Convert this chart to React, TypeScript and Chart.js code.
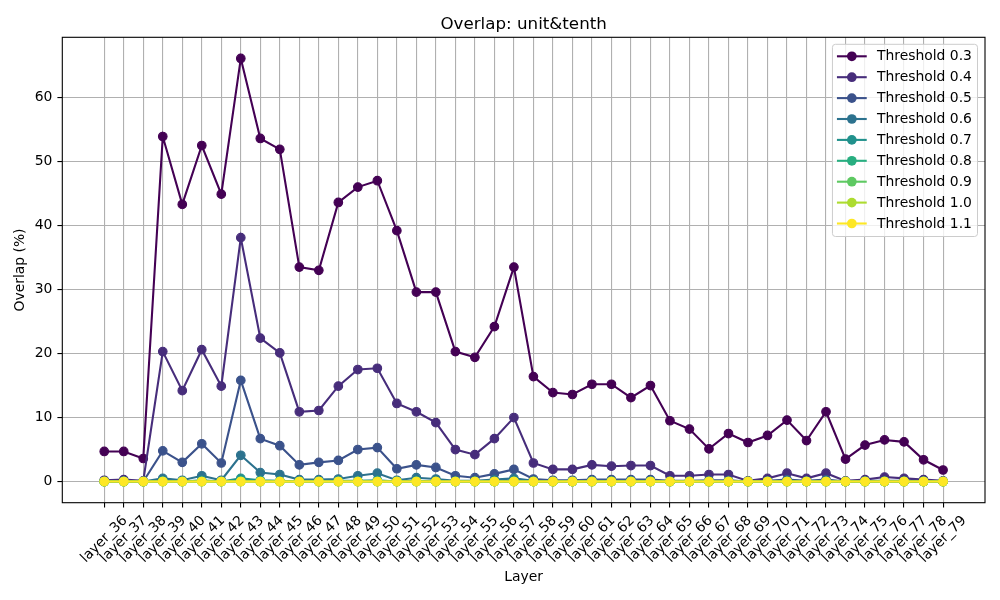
import React, { useEffect, useRef } from "react";
import { Chart, registerables } from "chart.js";

Chart.register(...registerables);

const layers = [
  "layer_36", "layer_37", "layer_38", "layer_39", "layer_40", "layer_41", "layer_42", "layer_43", "layer_44", "layer_45",
  "layer_46", "layer_47", "layer_48", "layer_49", "layer_50", "layer_51", "layer_52", "layer_53", "layer_54", "layer_55",
  "layer_56", "layer_57", "layer_58", "layer_59", "layer_60", "layer_61", "layer_62", "layer_63", "layer_64", "layer_65",
  "layer_66", "layer_67", "layer_68", "layer_69", "layer_70", "layer_71", "layer_72", "layer_73", "layer_74", "layer_75",
  "layer_76", "layer_77", "layer_78", "layer_79",
];

const thresholdLabels = [
  "Threshold 0.3", "Threshold 0.4", "Threshold 0.5", "Threshold 0.6", "Threshold 0.7",
  "Threshold 0.8", "Threshold 0.9", "Threshold 1.0", "Threshold 1.1",
];

const seriesColors = [
  "#440154", "#472d7b", "#3b528b", "#2c728e", "#21918c", "#28ae80", "#5ec962", "#addc30", "#fde725",
];

const t03 = [
  4.7, 4.7, 3.6, 53.9, 43.3, 52.5, 44.9, 66.1, 53.6, 51.9,
  33.5, 33.0, 43.6, 46.0, 47.0, 39.2, 29.6, 29.6, 20.3, 19.4,
  24.2, 33.5, 16.4, 13.9, 13.6, 15.2, 15.2, 13.1, 15.0, 9.5,
  8.2, 5.1, 7.5, 6.1, 7.2, 9.6, 6.4, 10.9, 3.5, 5.7,
  6.5, 6.2, 3.4, 1.8,
];
const t04 = [
  0.2, 0.3, 0.1, 20.3, 14.2, 20.6, 14.9, 38.1, 22.4, 20.1,
  10.9, 11.1, 14.9, 17.5, 17.7, 12.2, 10.9, 9.2, 5.0, 4.2,
  6.7, 10.0, 2.9, 1.9, 1.9, 2.6, 2.4, 2.5, 2.5, 0.9,
  0.9, 1.1, 1.1, 0.1, 0.5, 1.3, 0.5, 1.3, 0.1, 0.3,
  0.7, 0.5, 0.3, 0.1,
];
const t05 = [
  0.0, 0.1, 0.0, 4.8, 3.0, 5.9, 2.9, 15.8, 6.7, 5.6,
  2.6, 3.0, 3.3, 5.0, 5.3, 2.0, 2.6, 2.2, 0.9, 0.6,
  1.2, 1.9, 0.4, 0.2, 0.2, 0.3, 0.3, 0.3, 0.3, 0.1,
  0.1, 0.2, 0.2, 0.0, 0.1, 0.3, 0.1, 0.3, 0.0, 0.1,
  0.1, 0.1, 0.1, 0.0,
];
const t06 = [
  0.0, 0.0, 0.0, 0.5, 0.2, 0.9, 0.2, 4.1, 1.4, 1.1,
  0.3, 0.3, 0.4, 0.9, 1.3, 0.2, 0.6, 0.4, 0.1, 0.1,
  0.3, 0.5, 0.1, 0.0, 0.0, 0.1, 0.1, 0.1, 0.1, 0.0,
  0.0, 0.0, 0.0, 0.0, 0.0, 0.1, 0.0, 0.1, 0.0, 0.0,
  0.0, 0.0, 0.0, 0.0,
];
const t07 = [
  0.0, 0.0, 0.0, 0.1, 0.0, 0.2, 0.0, 0.5, 0.2, 0.1,
  0.0, 0.0, 0.1, 0.1, 0.2, 0.0, 0.1, 0.0, 0.0, 0.0,
  0.0, 0.1, 0.0, 0.0, 0.0, 0.0, 0.0, 0.0, 0.0, 0.0,
  0.0, 0.0, 0.0, 0.0, 0.0, 0.0, 0.0, 0.0, 0.0, 0.0,
  0.0, 0.0, 0.0, 0.0,
];
const t08 = [
  0, 0, 0, 0, 0, 0, 0, 0.1, 0, 0,
  0, 0, 0, 0, 0, 0, 0, 0, 0, 0,
  0, 0, 0, 0, 0, 0, 0, 0, 0, 0,
  0, 0, 0, 0, 0, 0, 0, 0, 0, 0,
  0, 0, 0, 0,
];
const t09 = [
  0, 0, 0, 0, 0, 0, 0, 0, 0, 0,
  0, 0, 0, 0, 0, 0, 0, 0, 0, 0,
  0, 0, 0, 0, 0, 0, 0, 0, 0, 0,
  0, 0, 0, 0, 0, 0, 0, 0, 0, 0,
  0, 0, 0, 0,
];
const t10 = [
  0, 0, 0, 0, 0, 0, 0, 0, 0, 0,
  0, 0, 0, 0, 0, 0, 0, 0, 0, 0,
  0, 0, 0, 0, 0, 0, 0, 0, 0, 0,
  0, 0, 0, 0, 0, 0, 0, 0, 0, 0,
  0, 0, 0, 0,
];
const t11 = [
  0, 0, 0, 0, 0, 0, 0, 0, 0, 0,
  0, 0, 0, 0, 0, 0, 0, 0, 0, 0,
  0, 0, 0, 0, 0, 0, 0, 0, 0, 0,
  0, 0, 0, 0, 0, 0, 0, 0, 0, 0,
  0, 0, 0, 0,
];

const yTicks = [0, 10, 20, 30, 40, 50, 60];

const chartTitle = "Overlap: unit&tenth";
const xTitle = "Layer";
const yTitle = "Overlap (%)";

const FONT = '"DejaVu Sans", sans-serif';
const FS = 13.9;

export default function App() {
  const ref = useRef<HTMLCanvasElement | null>(null);

  useEffect(() => {
    document.body.style.margin = "0";
    const canvas = ref.current;
    if (!canvas) return;
    const series = [t03, t04, t05, t06, t07, t08, t09, t10, t11];

    const overlay = {
      id: "overlay",
      afterDraw(chart: any) {
        const { ctx, chartArea: a } = chart;
        ctx.save();
        // spines
        ctx.strokeStyle = "#000";
        ctx.lineWidth = 1.1;
        ctx.strokeRect(a.left, a.top, a.right - a.left, a.bottom - a.top);

        // title
        ctx.fillStyle = "#000";
        ctx.font = `16.7px ${FONT}`;
        ctx.textAlign = "center";
        ctx.textBaseline = "alphabetic";
        const cx = (a.left + a.right) / 2;
        ctx.fillText(chartTitle, cx, a.top - 8.5);

        // x tick labels rotated 45 deg, centered on tick
        const xs = chart.scales.x;
        ctx.font = `${FS}px ${FONT}`;
        layers.forEach((lab, i) => {
          const px = xs.getPixelForValue(i);
          const w = ctx.measureText(lab).width;
          const d = (w + 16) * Math.SQRT1_2;
          ctx.save();
          ctx.translate(px, a.bottom + 10 + d / 2);
          ctx.rotate(-Math.PI / 4);
          ctx.textAlign = "center";
          ctx.textBaseline = "middle";
          ctx.fillText(lab, 0, 0);
          ctx.restore();
        });

        // x axis title
        ctx.textAlign = "center";
        ctx.textBaseline = "middle";
        ctx.fillText(xTitle, cx, 577);

        // legend
        const items = chart.data.datasets;
        let maxW = 0;
        items.forEach((ds: any) => {
          maxW = Math.max(maxW, ctx.measureText(ds.label).width);
        });
        const pad = 5.6;
        const handle = 27.8;
        const textPad = 11.1;
        const boxW = pad + handle + textPad + maxW + pad;
        const rowH = 20.9;
        const boxH = 12 + rowH * (items.length - 1) + 13;
        const bx = a.right - 7.5 - boxW;
        const by = a.top + 7;
        ctx.beginPath();
        if ((ctx as any).roundRect) {
          (ctx as any).roundRect(bx, by, boxW, boxH, 3);
        } else {
          ctx.rect(bx, by, boxW, boxH);
        }
        ctx.fillStyle = "rgba(255,255,255,0.8)";
        ctx.fill();
        ctx.strokeStyle = "#cccccc";
        ctx.lineWidth = 1;
        ctx.stroke();
        items.forEach((ds: any, i: number) => {
          const y = by + 12 + i * rowH;
          const hx = bx + 4.5;
          ctx.strokeStyle = ds.borderColor;
          ctx.lineWidth = 2.1;
          ctx.beginPath();
          ctx.moveTo(hx, y);
          ctx.lineTo(hx + handle + 2, y);
          ctx.stroke();
          ctx.fillStyle = ds.borderColor;
          ctx.beginPath();
          ctx.arc(hx + (handle + 2) / 2, y, 4.85, 0, Math.PI * 2);
          ctx.fill();
          ctx.fillStyle = "#000";
          ctx.textAlign = "left";
          ctx.textBaseline = "middle";
          ctx.fillText(ds.label, bx + pad + handle + textPad, y + 0.5);
        });
        ctx.restore();
      },
    };

    const gridOpts = {
      color: "#b0b0b0",
      lineWidth: 1.1,
      tickColor: "#000",
      tickLength: 4.9,
      tickWidth: 1.1,
    };

    const chart = new Chart(canvas, {
      type: "line",
      data: {
        datasets: series.map((s, i) => ({
          label: thresholdLabels[i],
          data: s.map((v, j) => ({ x: j, y: v })),
          borderColor: seriesColors[i],
          backgroundColor: seriesColors[i],
          pointBackgroundColor: seriesColors[i],
          pointBorderColor: seriesColors[i],
          pointBorderWidth: 1.1,
          pointRadius: 4.3,
          borderWidth: 2.1,
          tension: 0,
          fill: false,
          order: series.length - i,
        })),
      },
      options: {
        responsive: false,
        animation: false,
        layout: { padding: { left: 0, right: 15, top: 37.3, bottom: 97.3 } },
        plugins: {
          legend: { display: false },
          title: { display: false },
          tooltip: { enabled: false },
        },
        scales: {
          x: {
            type: "linear",
            min: -2.15,
            max: layers.length - 1 + 2.15,
            afterBuildTicks: (ax: any) => {
              ax.ticks = layers.map((_, i) => ({ value: i }));
            },
            afterFit: (ax: any) => {
              ax.height = 0;
            },
            ticks: { display: false },
            grid: gridOpts,
            border: { display: false },
          },
          y: {
            type: "linear",
            min: -3.305,
            max: 69.405,
            afterBuildTicks: (ax: any) => {
              ax.ticks = yTicks.map((v) => ({ value: v }));
            },
            afterFit: (ax: any) => {
              ax.width = 62.3;
            },
            ticks: {
              font: { family: FONT, size: FS },
              color: "#000",
              padding: 5,
            },
            grid: gridOpts,
            border: { display: false },
            title: {
              display: true,
              text: yTitle,
              font: { family: FONT, size: FS },
              color: "#000",
              padding: { top: 11.7, bottom: 0 },
            },
          },
        },
      },
      plugins: [overlay],
    } as any);

    return () => {
      chart.destroy();
    };
  }, []);

  return (
    <div style={{ width: 1000, height: 600 }}>
      <canvas ref={ref} width={1000} height={600} style={{ display: "block" }} />
    </div>
  );
}
